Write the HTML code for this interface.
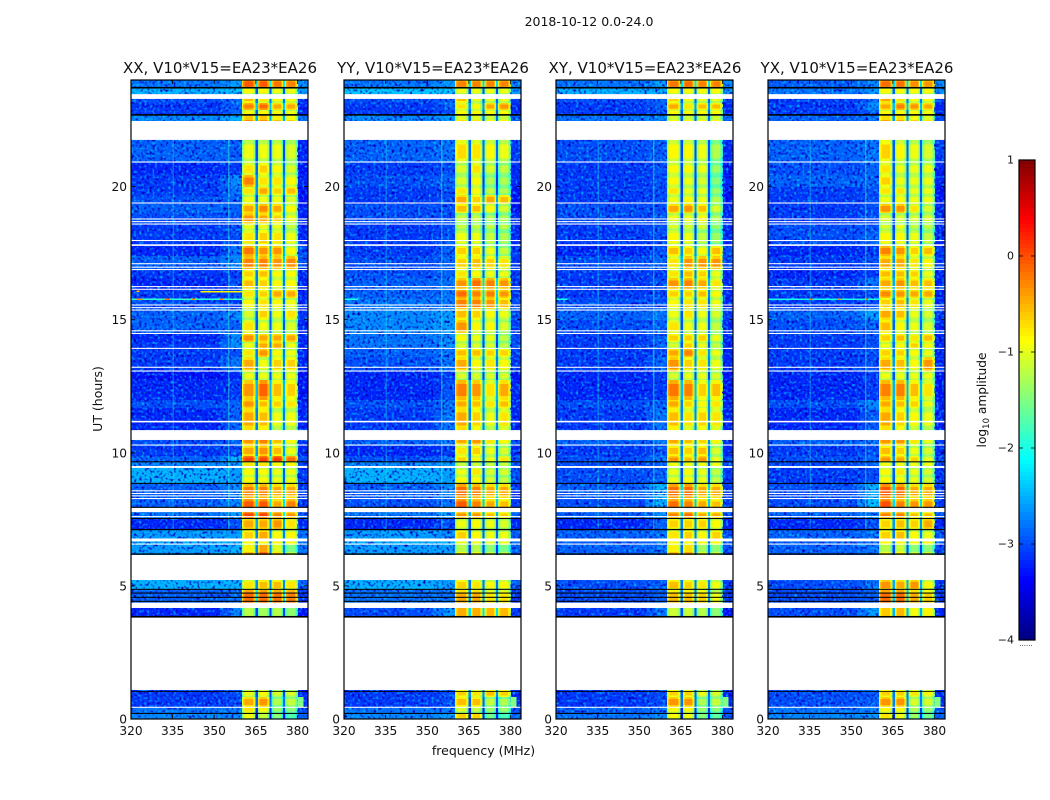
<!DOCTYPE html>
<html>
<head>
<meta charset="utf-8">
<title>2018-10-12 0.0-24.0</title>
<style>
html,body{margin:0;padding:0;background:#fff;}
svg{display:block;}
text{font-family:"DejaVu Sans","Liberation Sans",sans-serif;fill:#111;}
</style>
</head>
<body>
<svg id="chart" xmlns="http://www.w3.org/2000/svg" width="1050" height="800" viewBox="0 0 1050 800">
  <defs>
    <filter id="speckleDark" x="0" y="0" width="100%" height="100%" color-interpolation-filters="sRGB">
      <feTurbulence type="fractalNoise" baseFrequency="0.38" numOctaves="1" seed="7"/>
      <feColorMatrix type="matrix" values="0 0 0 0 0  0 0 0 0 0  0 0 0 0 0.75  4 0 0 0 -2"/>
    </filter>
    <filter id="speckleLight" x="0" y="0" width="100%" height="100%" color-interpolation-filters="sRGB">
      <feTurbulence type="fractalNoise" baseFrequency="0.38" numOctaves="1" seed="23"/>
      <feColorMatrix type="matrix" values="0 0 0 0 0  0 0 0 0 0.8  0 0 0 0 1  3 0 0 0 -1.6"/>
    </filter>
  </defs>
  <text x="589" y="26" font-size="12.5" text-anchor="middle">2018-10-12 0.0-24.0</text>
  <g id="panels"></g>
  <text x="483.5" y="755" font-size="12.5" text-anchor="middle">frequency (MHz)</text>
  <text x="0" y="0" font-size="12.5" text-anchor="middle" transform="translate(102,399) rotate(-90)">UT (hours)</text>
  <g id="colorbar"></g>
  <text x="0" y="0" font-size="12.2" text-anchor="middle" transform="translate(986,400) rotate(-90)">log<tspan font-size="8.5" dy="3">10</tspan><tspan dy="-3"> amplitude</tspan></text>
</svg>
<script>
// ---- data (all values are log10 amplitude) ----
const panelTitles = ["XX, V10*V15=EA23*EA26", "YY, V10*V15=EA23*EA26", "XY, V10*V15=EA23*EA26", "YX, V10*V15=EA23*EA26"];
const freqTicks = [320, 335, 350, 365, 380];
const utTicks = [0, 5, 10, 15, 20];
const colorTicks = [1, 0, -1, -2, -3, -4];
// UT row edges (hours), top to bottom
const utRowEdges = [24.00,23.70,23.47,23.14,22.87,22.68,21.75,20.88,20.43,19.98,19.68,19.34,19.00,18.59,18.37,17.76,17.39,16.86,16.56,16.11,15.81,15.40,14.99,14.46,14.16,13.90,13.60,13.03,12.73,11.98,11.68,10.85,10.25,9.87,9.65,9.43,9.13,8.83,8.26,7.77,7.55,7.10,6.69,6.54,5.22,4.85,4.17,1.09,0.83,0.45,0.23,0.00];
// frequency bands: background, transition, near-band, four sub-bands, right edge
const bgEdges = [320, 352, 356, 360];
const subbandEdges = [[360, 364.9], [365.7, 369.9], [370.7, 374.8], [375.5, 380]];
const rightEdges = [380, 384];
// each row: [bg, near, sb1, sb2, sb3, sb4, right]
const xxRows = [
[-2.8,-2.6,-0.1,-0.1,-0.25,-0.3,-2.7],[-2.5,-2.4,-0.9,-0.9,-1,-1,-2.6],[-3,-2.8,-0.6,-0.8,-0.9,-0.9,-3.1],[-3.1,-2.9,-0.3,-0.2,-0.5,-0.5,-3.2],[-3.1,-2.9,-0.9,-0.9,-0.9,-1,-3.2],[-2.7,-2.5,-0.4,-0.4,-0.6,-0.7,-2.8],
[-2.9,-2.9,-1,-1,-1,-1.1,-3.2],[-3.2,-3.1,-0.8,-0.7,-0.9,-1.1,-3.3],[-3.1,-2.7,-0.3,-0.8,-0.8,-0.9,-3.2],[-3.1,-2.8,-0.8,-0.5,-0.7,-0.6,-3.3],[-3,-2.9,-1,-1,-1,-1.1,-3.3],[-2.9,-2.9,-0.5,-0.35,-0.5,-0.9,-3.2],
[-3,-3,-0.4,-0.5,-0.7,-1,-3.2],[-3.1,-3,-1,-1,-1,-1.2,-3.2],[-3.1,-3,-0.8,-0.7,-0.8,-1,-3.2],[-3.2,-2.8,-0.25,-0.4,-0.4,-0.9,-3],[-2.9,-2.7,-0.3,-0.3,-0.4,-0.35,-3],[-3.1,-3.1,-0.7,-0.6,-0.9,-0.9,-3.2],
[-3.2,-3,-0.6,-0.7,-0.9,-0.9,-3.2],[-3.1,-3,-0.8,-0.7,-0.5,-0.5,-3.2],[-3,-3.1,-0.9,-0.8,-0.9,-1,-3.2],[-2.9,-2.7,-1.1,-0.7,-1,-0.8,-3.1],[-2.9,-2.9,-0.8,-1,-1,-1.1,-3.2],[-3.2,-2.7,-0.4,-0.5,-0.5,-0.5,-3.2],
[-3.1,-2.7,-1,-0.5,-0.5,-1,-3.2],[-3.1,-3,-0.8,-0.4,-0.9,-1,-3.2],[-3.1,-2.8,-0.5,-1,-0.7,-0.7,-3.2],[-3.3,-3.2,-1,-1,-1,-1,-3.3],[-3.2,-3.1,-0.4,-0.15,-0.6,-0.7,-3.3],[-3,-2.9,-0.4,-0.6,-0.7,-0.8,-3.2],
[-3.2,-2.9,-0.5,-0.6,-1,-1,-3.2],[-3,-2.9,-0.4,-0.3,-0.6,-0.9,-3.1],[-3.1,-3,-0.5,-0.4,-0.6,-1,-3.2],[-2.9,-2.5,0,0,0.05,-0.2,-3],[-2.7,-2.6,-0.8,-0.8,-0.9,-0.9,-3],[-2.5,-2.6,-0.9,-0.9,-1,-1,-3.1],
[-2.5,-2.6,-0.9,-0.9,-1,-1,-3.1],[-2.9,-2.7,-0.3,-0.3,-0.5,-0.5,-3.1],[-2.9,-2.7,-0.1,-0.1,-0.5,-0.3,-3.1],[-2.8,-2.6,0,0,-0.3,-0.4,-2.9],[-3.2,-3,-0.5,-0.5,-0.4,-0.8,-3.2],[-2.6,-2.6,-0.7,-0.5,-0.9,-0.9,-2.8],
[-2.5,-2.5,-0.9,-0.9,-0.9,-0.9,-2.8],[-2.6,-2.5,-0.6,-0.2,-0.8,-1.3,-2.8],[-2.5,-2.5,-0.8,-0.6,-0.6,-0.8,-2.9],[-2.9,-2.8,-0.2,-0.2,-0.25,-0.3,-3.1],[-3.2,-2.7,-1,-1.1,-1,-1.2,-3.3],[-3.1,-3,-1,-0.9,-1.1,-1.1,-3.2],
[-3.1,-3,-0.5,-0.4,-1.3,-1.2,-3.2],[-2.8,-2.8,-0.8,-0.9,-1.4,-1.5,-3],[-2.7,-2.7,-1,-1.2,-1.5,-1.8,-2.9]];
const yyRows = [
[-2.8,-2.6,-0.3,-0.3,-0.3,-0.3,-2.7],[-2.4,-2.4,-1,-1,-1,-1,-2.6],[-3,-2.9,-0.6,-1,-1,-1,-3.1],[-3.1,-2.9,-0.8,-0.9,-0.5,-0.4,-3.2],[-3.1,-3,-0.9,-0.9,-0.9,-0.9,-3.2],[-2.7,-2.6,-0.8,-0.8,-0.9,-0.9,-2.9],
[-2.9,-2.8,-0.75,-0.8,-0.9,-1,-3.1],[-3.1,-3,-1.1,-0.8,-1.1,-1.2,-3.2],[-3,-2.9,-1.1,-0.9,-1.3,-1.3,-3.2],[-3.1,-3,-0.8,-0.9,-1.2,-1.3,-3.3],[-3.1,-3,-0.5,-0.7,-0.5,-0.6,-3.3],[-3,-3,-0.6,-0.6,-0.9,-1.1,-3.3],
[-3,-3,-1.2,-1.2,-1.3,-1.3,-3.2],[-3.1,-3,-1.2,-1.2,-1.2,-1.2,-3.2],[-3.1,-3,-1,-1,-1.2,-1.3,-3.2],[-3.1,-2.9,-0.7,-0.7,-1,-1.2,-3.1],[-3,-2.9,-0.7,-0.6,-0.7,-0.8,-3.1],[-3,-2.9,-0.8,-0.9,-1,-1,-3.1],
[-2.9,-2.8,-0.4,-0.2,-0.3,-0.4,-3.1],[-2.9,-2.8,-0.2,-0.3,-0.3,-0.4,-3.1],[-2.8,-2.8,-0.3,-0.3,-0.4,-0.6,-3],[-2.7,-2.6,-0.6,-0.7,-0.9,-1,-3],[-2.7,-2.6,-0.4,-0.9,-0.9,-1.1,-3.1],[-2.8,-2.7,-0.9,-1,-1,-1.2,-3],
[-2.8,-2.7,-1.1,-1.1,-1.1,-1.2,-3],[-2.9,-2.8,-0.6,-0.6,-0.7,-0.7,-3.1],[-3,-2.8,-0.5,-0.9,-0.8,-0.9,-3.1],[-3.2,-3.1,-1.1,-1.1,-1.1,-1.1,-3.3],[-3.2,-3,-0.3,-0.4,-0.8,-0.5,-3.2],[-3,-2.8,-0.5,-0.6,-0.8,-0.6,-3.2],
[-3.1,-2.8,-0.5,-0.7,-1,-0.8,-3.2],[-2.9,-2.8,-0.5,-0.4,-0.8,-0.9,-3],[-3.2,-3.1,-0.8,-0.7,-1,-1.1,-3.2],[-3,-2.8,-0.7,-0.9,-1,-0.8,-3],[-2.7,-2.6,-1.2,-1.2,-1.2,-1.2,-2.9],[-2.5,-2.6,-1,-0.8,-1.1,-1.1,-3],
[-2.5,-2.6,-0.9,-0.9,-1.1,-1.2,-3],[-2.9,-2.7,-0.2,-0.3,-0.5,-0.5,-3.1],[-3,-2.8,-0.1,-0.3,-0.5,-0.6,-3.1],[-2.8,-2.6,-0.4,-0.4,-0.6,-0.7,-2.9],[-3.2,-3,-1,-0.9,-1,-1.1,-3.2],[-2.6,-2.7,-0.7,-0.9,-1,-1,-2.9],
[-2.5,-2.5,-1,-1,-1,-1,-2.8],[-2.6,-2.6,-1,-1,-1.2,-1.3,-2.9],[-2.5,-2.6,-0.7,-0.8,-0.9,-0.9,-2.9],[-2.8,-2.8,-0.5,-0.5,-0.8,-0.8,-3.1],[-3,-2.6,-0.25,-0.25,-0.3,-0.3,-3.1],[-3.1,-3,-0.7,-0.8,-0.6,-0.7,-3.2],
[-3.1,-3,-0.6,-0.6,-1.2,-1.3,-3.2],[-2.8,-2.8,-1.1,-1.2,-1.4,-1.4,-3],[-2.7,-2.6,-0.7,-0.7,-1.6,-1.8,-2.9]];
const xyRows = [
[-2.8,-2.6,-0.25,-0.2,-0.3,-0.3,-2.7],[-2.5,-2.5,-0.9,-0.9,-0.9,-0.9,-2.6],[-3,-2.9,-0.7,-0.9,-1,-1,-3.1],[-3.1,-2.9,-0.5,-0.8,-0.6,-0.6,-3.2],[-3.1,-3,-0.9,-0.9,-0.9,-0.9,-3.2],[-2.8,-2.7,-0.9,-0.9,-0.9,-0.9,-2.9],
[-3,-2.9,-0.9,-0.9,-1,-1.3,-3.2],[-3.1,-3,-0.9,-0.9,-1,-1.4,-3.3],[-3.1,-3,-0.9,-1,-1.1,-1.5,-3.2],[-3.1,-3,-0.8,-1,-1,-1.4,-3.3],[-3.1,-3,-1,-0.9,-1,-1.3,-3.3],[-3,-3,-0.5,-0.4,-0.6,-1.1,-3.2],
[-3,-3,-1,-1,-0.9,-1.3,-3.2],[-3.1,-3,-1.1,-1.1,-1.1,-1.4,-3.2],[-3.1,-3,-0.9,-1,-1.2,-1.4,-3.2],[-3.2,-3,-0.6,-0.7,-0.9,-0.6,-3],[-3,-2.9,-0.8,-0.4,-0.4,-0.4,-3],[-3.1,-3.1,-0.8,-0.6,-0.7,-1,-3.2],
[-3.1,-3,-0.4,-0.3,-0.5,-0.8,-3.2],[-3.1,-3,-0.7,-0.7,-0.6,-0.9,-3.2],[-3,-3,-0.9,-0.8,-0.8,-1,-3.2],[-2.9,-2.8,-1,-0.8,-1,-1.1,-3.1],[-3,-2.9,-0.8,-1,-1,-1.2,-3.2],[-3.1,-2.9,-0.7,-0.7,-0.7,-1,-3.2],
[-3.1,-2.9,-1.1,-0.7,-1,-1.2,-3.2],[-3.1,-3,-0.5,-0.3,-0.8,-1,-3.2],[-3.1,-2.9,-0.4,-0.7,-0.8,-1,-3.2],[-3.2,-3.1,-1.1,-1,-1,-1.1,-3.3],[-3.2,-3.1,-0.25,-0.3,-0.7,-0.6,-3.3],[-3,-2.9,-0.5,-0.7,-0.9,-0.8,-3.2],
[-3.1,-2.8,-0.6,-0.8,-0.7,-0.8,-3.2],[-2.9,-2.8,-0.5,-0.6,-0.7,-0.9,-3.1],[-3.1,-3,-0.6,-0.7,-0.6,-1.1,-3.2],[-3,-2.8,-0.4,-0.6,-0.4,-1,-3],[-3,-2.9,-1,-1,-1,-1,-3],[-3,-2.9,-1,-0.9,-1,-1.2,-3.1],
[-3,-2.9,-1,-0.9,-1,-1.2,-3.1],[-2.9,-2.5,-0.2,-0.2,-0.5,-0.5,-3.1],[-3,-2.5,-0.2,-0.3,-0.5,-0.6,-3.1],[-2.9,-2.7,-0.3,-0.2,-0.5,-0.5,-3],[-3.2,-2.9,-0.7,-0.7,-0.7,-0.9,-3.2],[-2.9,-2.8,-0.8,-0.7,-0.9,-0.7,-3],
[-2.9,-2.8,-0.9,-0.9,-0.9,-0.9,-3],[-2.9,-2.8,-0.6,-0.5,-1.1,-1.2,-3],[-3,-2.9,-0.6,-0.7,-0.8,-1,-3.1],[-3,-2.9,-0.6,-0.6,-0.7,-1,-3.1],[-3.1,-2.8,-0.9,-0.9,-1,-1.2,-3.3],[-3.1,-3,-0.7,-0.7,-1,-1.1,-3.2],
[-3.1,-3,-0.4,-0.4,-1.3,-1.2,-3.2],[-2.9,-2.8,-0.9,-0.9,-1.4,-1.5,-3],[-2.8,-2.7,-0.9,-1,-1.5,-1.7,-2.9]];
const yxRows = [
[-2.9,-2.7,-0.2,-0.2,-0.35,-0.4,-2.7],[-2.8,-2.6,-0.9,-0.9,-0.9,-0.9,-2.7],[-3.1,-2.8,-0.5,-0.8,-0.9,-0.9,-3.1],[-3.1,-2.7,-0.5,-0.3,-0.4,-0.5,-3.2],[-3.1,-2.9,-0.9,-0.9,-0.9,-0.9,-3.2],[-2.9,-2.8,-0.5,-0.5,-0.7,-0.8,-3],
[-2.9,-2.8,-0.7,-0.9,-1,-1.1,-3.1],[-3,-2.9,-0.8,-1,-1,-1,-3.2],[-2.9,-2.9,-0.7,-1,-1,-1,-3.2],[-3.1,-3,-0.8,-0.8,-1,-1,-3.3],[-3.1,-3,-1,-0.9,-1,-1,-3.3],[-3.1,-3,-0.4,-0.4,-0.8,-1.1,-3.2],
[-3.1,-3,-1.1,-1.1,-1.1,-1.1,-3.2],[-3,-3,-1.1,-1,-1.2,-1.2,-3.2],[-3,-2.9,-0.9,-0.9,-1,-1.2,-3.2],[-3.2,-3.1,-0.3,-0.4,-0.7,-0.6,-3.1],[-3.1,-3,-0.5,-0.5,-0.8,-0.9,-3.1],[-3.2,-3.1,-0.6,-0.6,-0.7,-1,-3.2],
[-3.1,-2.8,-0.5,-0.4,-0.6,-0.6,-3.2],[-3.1,-3,-0.35,-0.4,-0.5,-0.5,-3.2],[-3.1,-3,-0.7,-0.6,-0.8,-1,-3.2],[-2.9,-2.6,-0.5,-0.6,-1,-1.1,-3.1],[-3,-2.9,-0.6,-0.9,-1,-1.1,-3.2],[-3.1,-3,-0.7,-0.6,-0.8,-0.6,-3.2],
[-3.1,-3,-1,-0.9,-0.7,-0.9,-3.2],[-3.1,-3,-0.7,-0.7,-0.9,-1,-3.2],[-3.1,-3,-0.5,-0.6,-0.9,-0.4,-3.2],[-3.2,-3.1,-1,-1,-1,-1,-3.3],[-3.2,-3.1,-0.3,-0.3,-0.6,-0.8,-3.3],[-3,-2.7,-0.5,-0.6,-0.7,-1,-3.2],
[-3.2,-2.9,-0.5,-0.7,-0.9,-1,-3.2],[-2.9,-2.8,-0.4,-0.4,-0.8,-1,-3.1],[-3.1,-3,-0.6,-0.7,-1,-1.1,-3.2],[-3,-2.9,-0.4,-0.5,-0.7,-1,-3],[-3,-2.9,-1,-1,-1,-1,-3],[-3.1,-3,-0.9,-0.8,-1,-1.1,-3.1],
[-3.1,-3,-0.9,-0.9,-1,-1.1,-3.1],[-3,-2.5,-0.1,-0.2,-0.5,-0.5,-3.1],[-3,-2.4,-0.05,-0.3,-0.4,-0.4,-3.1],[-2.9,-2.7,-0.3,-0.3,-0.6,-0.6,-3],[-3.2,-3,-0.7,-0.6,-0.7,-0.5,-3.2],[-2.9,-2.8,-0.7,-0.6,-0.9,-1,-3],
[-2.9,-2.8,-0.9,-0.9,-0.9,-0.9,-3],[-2.9,-2.8,-1,-0.9,-1.2,-1.2,-3],[-3,-2.8,-0.4,-0.5,-0.4,-0.9,-3.1],[-3,-2.9,-0.2,-0.2,-0.5,-0.7,-3.1],[-3,-2.6,-0.4,-0.3,-0.7,-0.6,-3.2],[-3,-2.9,-0.7,-0.7,-0.8,-0.9,-3.2],
[-3,-2.9,-0.4,-0.4,-1.1,-1.1,-3.2],[-2.8,-2.7,-0.9,-0.9,-1.3,-1.4,-3],[-2.7,-2.6,-0.8,-1,-1.4,-1.6,-2.9]];
const panelRows = [xxRows, yyRows, xyRows, yxRows];
// relative profile across one sub-band: [fraction start, fraction end, level offset]
const subbandProfile = [[0,0.07,-0.55],[0.07,0.2,-0.2],[0.2,0.8,0],[0.8,0.93,-0.25],[0.93,1,-0.6]];
// relative profile along one time row: [fraction start, fraction end, level offset]
const rowProfile = [[0,0.2,-0.22],[0.2,0.8,0.05],[0.8,1,-0.22]];
const gapOffset = [-2.0];
// flagged (masked) UT ranges, [top, bottom] hours
const maskBands = [[23.47,23.29],[22.46,21.75],[20.94,20.90],[19.40,19.36],[18.80,18.76],[18.70,18.66],[18.61,18.57],[17.99,17.95],[17.83,17.77],[17.12,17.08],[16.99,16.95],[16.90,16.86],[16.26,16.22],[16.16,16.12],[15.57,15.53],[15.47,15.43],[15.38,15.34],[14.60,14.56],[14.50,14.46],[13.94,13.90],[13.23,13.19],[13.09,13.05],[11.20,11.14],[10.85,10.48],[10.31,10.27],[9.50,9.43],[8.59,8.55],[8.49,8.45],[8.40,8.36],[8.30,8.26],[7.94,7.77],[7.62,7.58],[6.78,6.67],[6.59,6.55],[6.16,5.22],[4.37,4.17],[3.81,1.09],[0.46,0.42]];
// zero-amplitude (black) rows, [top, bottom] hours
const blackBands = [[23.74,23.68],[22.72,22.66],[9.68,9.64],[8.87,8.83],[7.97,7.93],[7.55,7.51],[7.14,7.09],[6.22,6.17],[4.89,4.85],[4.75,4.71],[4.59,4.55],[4.44,4.40],[3.87,3.81],[1.05,1.02],[0.23,0.19]];
// narrow-band interference channels: [freq MHz, width MHz, level, UT top, UT bottom, opacity]
const rfiChannels = [[335,0.35,-2.0,21.75,7.1,0.3],[355,0.4,-1.9,21.75,7.1,0.45]];
// horizontal interference per panel: [UT, start MHz, end MHz, level]
const rfiXX = [[15.77,320,360,-1.9],[16.05,345,360,-0.8],[15.77,322,324,-0.3],[15.77,332,334,-0.2],[15.77,342,343,-0.4],[15.77,352,353,-0.3],[16.07,322,323,-0.6]];
const rfiYY = [[15.77,320,325,-2.0]];
const rfiXY = [[15.77,320,324,-2.0]];
const rfiYX = [[15.77,320,360,-2.0],[15.77,335,336,-0.2],[15.77,345,346,-0.3],[15.77,355,356,-0.3]];
const panelRfi = [rfiXX, rfiYY, rfiXY, rfiYX];
// late sub-band extension past 380 MHz: [UT top, UT bottom, start MHz, end MHz, level]
const lateExtension = [[0.83,0.45,380,382,-1.5]];

// ---- layout ----
const panelLefts = [131, 344, 556, 768];
const panelWidth = 177, plotTop = 80, plotBottom = 719;
const freqMin = 320, freqMax = 383.8, utMin = 0, utMax = 24, colorMin = -4, colorMax = 1;
const NS = "http://www.w3.org/2000/svg";

function jet(v) {
  const t = Math.max(0, Math.min(1, (v - colorMin) / (colorMax - colorMin)));
  const ch = (p) => Math.round(255 * Math.max(0, Math.min(1, 1.5 - Math.abs(4 * t - p))));
  return "rgb(" + ch(3) + "," + ch(2) + "," + ch(1) + ")";
}
function xScale(left, f) { return left + (f - freqMin) / (freqMax - freqMin) * panelWidth; }
function yScale(u) { return plotBottom - (u - utMin) / (utMax - utMin) * (plotBottom - plotTop); }
function make(tag, attrs, parent) {
  const el = document.createElementNS(NS, tag);
  for (const k in attrs) el.setAttribute(k, attrs[k]);
  parent.appendChild(el);
  return el;
}
function box(parent, x0, x1, y0, y1, fill) {
  return make("rect", { x: x0, y: y0, width: Math.max(0, x1 - x0) + 0.3, height: Math.max(0, y1 - y0) + 0.3, fill: fill, "shape-rendering": "crispEdges" }, parent);
}

const panelsRoot = document.getElementById("panels");
panelTitles.forEach(function (title, p) {
  const left = panelLefts[p], right = left + panelWidth;
  const rows = panelRows[p];
  const g = make("g", {}, panelsRoot);
  
  

  const t = make("text", { x: left + panelWidth / 2 + 0.5, y: 73, "font-size": 15, "text-anchor": "middle" }, g);
  
  
  t.textContent = title;

  const cells = make("g", {}, g);
  
  
  rows.forEach(function (row, r) {
    const y0 = yScale(utRowEdges[r]), y1 = yScale(utRowEdges[r + 1]);
    const bgCell = box(cells, xScale(left, bgEdges[0]), xScale(left, bgEdges[1]), y0, y1, jet(row[0]));
    
    
    const midCell = box(cells, xScale(left, bgEdges[1]), xScale(left, bgEdges[2]), y0, y1, jet((row[0] + row[1]) / 2));
    
    
    const nearCell = box(cells, xScale(left, bgEdges[2]), xScale(left, bgEdges[3]), y0, y1, jet(row[1]));
    
    
    const rightCell = box(cells, xScale(left, rightEdges[0]), xScale(left, rightEdges[1]) - 0.3, y0, y1, jet(row[6]));
    
    
    const mean = (row[2] + row[3] + row[4] + row[5]) / 4;
    subbandEdges.forEach(function (edge, s) {
      const width = edge[1] - edge[0];
      subbandProfile.forEach(function (prof) {
        rowProfile.forEach(function (rp) {
          const ya = y0 + rp[0] * (y1 - y0), yb = y0 + rp[1] * (y1 - y0);
          const c = box(cells, xScale(left, edge[0] + prof[0] * width), xScale(left, edge[0] + prof[1] * width), ya, yb, jet(row[2 + s] + prof[2] + rp[2]));
          
          
        });
      });
      if (s < 3) {
        const gap = box(cells, xScale(left, edge[1]), xScale(left, subbandEdges[s + 1][0]), y0, y1, jet(mean + gapOffset[0]));
        
        
      }
    });
  });

  ["speckleDark", "speckleLight"].forEach(function (fid) {
    const sp1 = make("rect", { x: xScale(left, 320), y: plotTop, width: xScale(left, 360) - xScale(left, 320), height: plotBottom - plotTop, filter: "url(#" + fid + ")" }, g);
    
    
    const sp2 = make("rect", { x: xScale(left, 380), y: plotTop, width: right - xScale(left, 380), height: plotBottom - plotTop, filter: "url(#" + fid + ")" }, g);
    
    
  });

  rfiChannels.forEach(function (ch) {
    const c = box(g, xScale(left, ch[0]), xScale(left, ch[0] + ch[1]), yScale(ch[3]), yScale(ch[4]), jet(ch[2]));
    c.setAttribute("opacity", ch[5]);
    
    
  });
  panelRfi[p].forEach(function (line) {
    const c = box(g, xScale(left, line[1]), xScale(left, line[2]), yScale(line[0]) - 0.5, yScale(line[0]) + 0.5, jet(line[3]));
    
    
  });
  lateExtension.forEach(function (ext) {
    const c = box(g, xScale(left, ext[2]), xScale(left, ext[3]), yScale(ext[0]), yScale(ext[1]), jet(ext[4]));
    
    
  });
  maskBands.forEach(function (band) {
    const c = make("rect", { x: left, y: yScale(band[0]), width: panelWidth, height: yScale(band[1]) - yScale(band[0]), fill: "#fff" }, g);
    
    
  });
  blackBands.forEach(function (band) {
    const c = make("rect", { x: left, y: yScale(band[0]), width: panelWidth, height: yScale(band[1]) - yScale(band[0]), fill: "#000" }, g);
    
    
  });

  const frame = make("rect", { x: left, y: plotTop, width: panelWidth, height: plotBottom - plotTop, fill: "none", stroke: "#000", "stroke-width": 1.2 }, g);
  
  

  freqTicks.forEach(function (f) {
    const x = xScale(left, f);
    const tb = make("line", { x1: x, x2: x, y1: plotBottom, y2: plotBottom - 4, stroke: "#000", "stroke-width": 0.8 }, g);
    
    
    const tt = make("line", { x1: x, x2: x, y1: plotTop, y2: plotTop + 4, stroke: "#000", "stroke-width": 0.8 }, g);
    
    
    const lb = make("text", { x: x, y: 735, "font-size": 12.2, "text-anchor": "middle" }, g);
    
    
    lb.textContent = f;
  });
  utTicks.forEach(function (u) {
    const y = yScale(u);
    const tl = make("line", { x1: left, x2: left + 4, y1: y, y2: y, stroke: "#000", "stroke-width": 0.8 }, g);
    
    
    const tr = make("line", { x1: right, x2: right - 4, y1: y, y2: y, stroke: "#000", "stroke-width": 0.8 }, g);
    
    
    const lb = make("text", { x: left - 4, y: y + 4.5, "font-size": 12.2, "text-anchor": "end" }, g);
    
    
    lb.textContent = u;
  });
});

// ---- colorbar ----
const cbarLeft = 1019, cbarRight = 1035, cbarTop = 160, cbarBottom = 640;
const cbarRoot = document.getElementById("colorbar");
function cbarY(v) { return cbarBottom - (v - colorMin) / (colorMax - colorMin) * (cbarBottom - cbarTop); }
const cbarSteps = 120;
for (let i = 0; i < cbarSteps; i++) {
  const v0 = colorMax - (colorMax - colorMin) * i / cbarSteps;
  const v1 = colorMax - (colorMax - colorMin) * (i + 1) / cbarSteps;
  const seg = box(cbarRoot, cbarLeft, cbarRight, cbarY(v0), cbarY(v1), jet((v0 + v1) / 2));
  
  
}
const cbarFrame = make("rect", { x: cbarLeft, y: cbarTop, width: cbarRight - cbarLeft, height: cbarBottom - cbarTop, fill: "none", stroke: "#000", "stroke-width": 1.2 }, cbarRoot);


colorTicks.forEach(function (v) {
  const y = cbarY(v);
  const a = make("line", { x1: cbarLeft, x2: cbarLeft + 4, y1: y, y2: y, stroke: "#000", "stroke-width": 0.8 }, cbarRoot);
  
  
  const b = make("line", { x1: cbarRight, x2: cbarRight - 4, y1: y, y2: y, stroke: "#000", "stroke-width": 0.8 }, cbarRoot);
  
  
  const lb = make("text", { x: 1014, y: y + 3.5, "font-size": 11, "text-anchor": "end" }, cbarRoot);
  
  
  lb.textContent = String(v).replace("-", "\u2212");
});
const cbarDots = make("text", { x: 1026, y: 646, "font-size": 7, "text-anchor": "middle", fill: "#888" }, cbarRoot);


cbarDots.textContent = "......";
</script>
</body>
</html>
